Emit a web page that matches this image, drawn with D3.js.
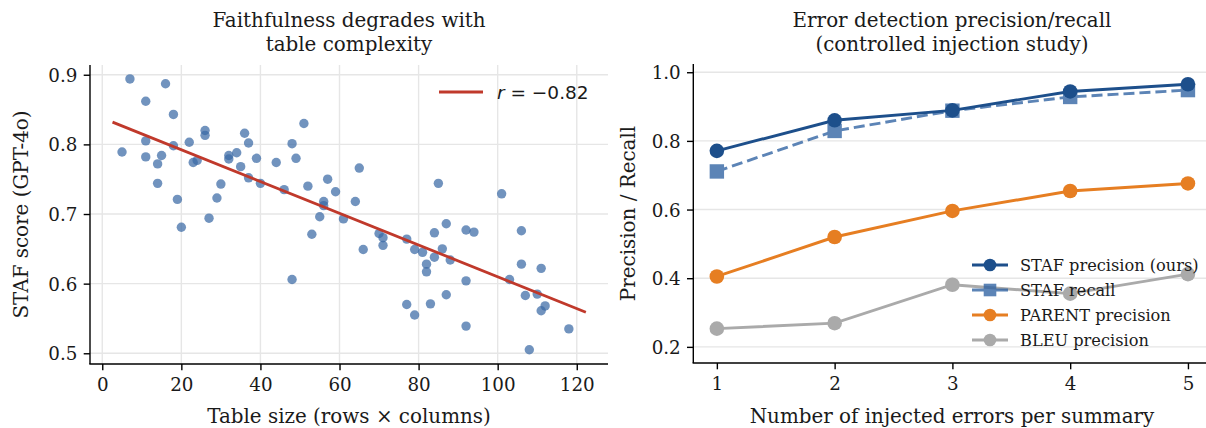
<!DOCTYPE html>
<html><head><meta charset="utf-8">
<script src="https://cdn.jsdelivr.net/npm/d3@7"></script>
<style>
html,body{margin:0;padding:0;background:#fff;}
svg text{font-family:"DejaVu Serif",serif;fill:#1a1a1a;}
</style></head>
<body><svg id="chart" width="1206" height="428"></svg>
<script>
// ---------- Left panel data ----------
const tableSize = [7,16,11,18,26,26,36,51,11,5,18,22,37,48,11,15,14,23,24,32,32,34,35,39,44,49,37,40,46,52,57,59,56,56,14,30,19,29,27,55,61,20,53,48,65,64,85,101,70,71,71,66,77,79,81,84,87,86,84,82,82,88,92,94,92,77,79,83,87,92,106,106,103,111,107,110,112,111,118,108];
const stafScore = [0.894,0.887,0.862,0.843,0.820,0.813,0.816,0.830,0.805,0.789,0.798,0.803,0.802,0.801,0.782,0.784,0.772,0.774,0.777,0.784,0.779,0.788,0.768,0.780,0.774,0.780,0.752,0.744,0.735,0.740,0.750,0.732,0.718,0.712,0.744,0.743,0.721,0.723,0.694,0.696,0.693,0.681,0.671,0.606,0.766,0.718,0.744,0.729,0.672,0.666,0.655,0.649,0.664,0.649,0.645,0.673,0.686,0.650,0.638,0.628,0.617,0.634,0.677,0.674,0.604,0.570,0.555,0.571,0.584,0.539,0.676,0.628,0.606,0.622,0.583,0.585,0.568,0.561,0.535,0.505];
const fitX = [2.6, 122.3];
const fitY = [0.832, 0.559];
const leftXTicks = [0,20,40,60,80,100,120];
const leftYTicks = [0.5,0.6,0.7,0.8,0.9];
const corrLabel = "−0.82";

// ---------- Right panel data ----------
const nErrors = [1,2,3,4,5];
const stafPrecision = [0.771,0.860,0.889,0.944,0.965];
const stafRecall = [0.711,0.829,0.888,0.928,0.948];
const parentPrecision = [0.405,0.520,0.596,0.654,0.676];
const bleuPrecision = [0.253,0.269,0.381,0.355,0.412];
const seriesNames = ["STAF precision (ours)","STAF recall","PARENT precision","BLEU precision"];
const rightYTicks = [0.2,0.4,0.6,0.8,1.0];

const svg = d3.select("#chart");
const TICK = 6.3, PAD = 6.3, TF = 18.3, LF = 19.9;

function drawGrid(g, x, y, xt, yt, gridX) {
  const [x0,x1] = x.range(), [y0,y1] = y.range();
  if (gridX) g.append("g").selectAll("line").data(xt).join("line")
    .attr("x1",d=>x(d)).attr("x2",d=>x(d)).attr("y1",y0).attr("y2",y1)
    .attr("stroke","#e6e6e6").attr("stroke-width",1.4);
  g.append("g").selectAll("line").data(yt).join("line")
    .attr("x1",x0).attr("x2",x1).attr("y1",d=>y(d)).attr("y2",d=>y(d))
    .attr("stroke","#e6e6e6").attr("stroke-width",1.4);
}
function drawSpines(g, x, y, xt, yt, xfmt, yfmt) {
  const [x0,x1] = x.range(), [y0,y1] = y.range();
  const ax = g.append("g").attr("transform",`translate(0,${y0})`)
    .call(d3.axisBottom(x).tickValues(xt).tickFormat(xfmt).tickSizeInner(TICK).tickSizeOuter(0).tickPadding(PAD));
  const ay = g.append("g").attr("transform",`translate(${x0},0)`)
    .call(d3.axisLeft(y).tickValues(yt).tickFormat(yfmt).tickSizeInner(TICK).tickSizeOuter(0).tickPadding(PAD));
  [ax,ay].forEach(a=>{
    a.select(".domain").remove();
    a.selectAll(".tick line").attr("stroke","#000").attr("stroke-width",1.4);
    a.selectAll(".tick text").attr("font-size",TF).attr("font-family","DejaVu Serif").attr("fill","#1a1a1a");
  });
  ax.selectAll(".tick text").attr("dy","0.76em");
  ay.selectAll(".tick text").attr("dy","0.36em");
  g.append("line").attr("x1",x0).attr("x2",x0).attr("y1",y0).attr("y2",y1).attr("stroke","#000").attr("stroke-width",1.4);
  g.append("line").attr("x1",x0-0.7).attr("x2",x1).attr("y1",y0).attr("y2",y0).attr("stroke","#000").attr("stroke-width",1.4);
}

// ================= LEFT PANEL =================
const xL = d3.scaleLinear().domain([-3.1,127.9]).range([90,608]);
const yL = d3.scaleLinear().domain([0.4846,0.914]).range([364,65]);
const gL = svg.append("g");
drawGrid(gL,xL,yL,leftXTicks,leftYTicks,true);
gL.append("g").selectAll("circle").data(tableSize.map((d,i)=>[d,stafScore[i]])).join("circle")
  .attr("cx",d=>xL(d[0])).attr("cy",d=>yL(d[1])).attr("r",4.7)
  .attr("fill","#3a6aa5").attr("fill-opacity",0.72);
gL.append("path").datum(fitX.map((d,i)=>[d,fitY[i]]))
  .attr("d",d3.line().x(d=>xL(d[0])).y(d=>yL(d[1])))
  .attr("stroke","#c0392b").attr("stroke-width",2.8).attr("fill","none");
drawSpines(gL,xL,yL,leftXTicks,leftYTicks,d3.format("d"),d3.format(".1f"));
// legend
gL.append("line").attr("x1",439).attr("x2",483).attr("y1",92).attr("y2",92).attr("stroke","#c0392b").attr("stroke-width",2.8);
const lt = gL.append("text").attr("x",497).attr("y",98.5).attr("font-size",18.5).style("font-family","DejaVu Sans");
lt.append("tspan").attr("font-style","italic").style("font-family","DejaVu Sans").text("r");
lt.append("tspan").style("font-family","DejaVu Sans").text(" = " + corrLabel);
// titles / labels
gL.append("text").attr("x",349).attr("y",27).attr("text-anchor","middle").attr("font-size",LF).text("Faithfulness degrades with");
gL.append("text").attr("x",349).attr("y",51).attr("text-anchor","middle").attr("font-size",LF).text("table complexity");
gL.append("text").attr("x",349).attr("y",422.5).attr("text-anchor","middle").attr("font-size",LF).text("Table size (rows × columns)");
gL.append("text").attr("transform","translate(28,214.5) rotate(-90)").attr("text-anchor","middle").attr("font-size",LF).text("STAF score (GPT-4o)");

// ================= RIGHT PANEL =================
const xR = d3.scaleLinear().domain([0.8,5.2]).range([693.3,1211.5]);
const yR = d3.scaleLinear().domain([0.153,1.024]).range([363,64]);
const gR = svg.append("g");
drawGrid(gR,xR,yR,nErrors,rightYTicks,false);
const line = d3.line().x(d=>xR(d[0])).y(d=>yR(d[1]));
const series = [
  {name:seriesNames[0], vals:stafPrecision, color:"#1d4f8b", dash:null, marker:"circle", op:1},
  {name:seriesNames[1], vals:stafRecall, color:"#2f62a2", dash:"11,5", marker:"square", op:0.78},
  {name:seriesNames[2], vals:parentPrecision, color:"#e67e22", dash:null, marker:"circle", op:1},
  {name:seriesNames[3], vals:bleuPrecision, color:"#aaaaaa", dash:null, marker:"circle", op:1}
];
const drawOrder = [1,0,2,3];
drawOrder.forEach(k=>{
  const s = series[k];
  const pts = nErrors.map((d,i)=>[d,s.vals[i]]);
  const g = gR.append("g").attr("opacity",s.op);
  g.append("path").datum(pts).attr("d",line).attr("fill","none").attr("stroke",s.color)
    .attr("stroke-width",2.9).attr("stroke-dasharray",s.dash);
  if (s.marker==="circle") g.selectAll("circle").data(pts).join("circle")
    .attr("cx",d=>xR(d[0])).attr("cy",d=>yR(d[1])).attr("r",7.3).attr("fill",s.color);
  else g.selectAll("rect").data(pts).join("rect")
    .attr("x",d=>xR(d[0])-7.2).attr("y",d=>yR(d[1])-7.2).attr("width",14.4).attr("height",14.4).attr("fill",s.color);
});
drawSpines(gR,xR,yR,nErrors,rightYTicks,d3.format("d"),d3.format(".1f"));
// legend
series.forEach((s,i)=>{
  const cy = 265 + i*25;
  const g = gR.append("g").attr("opacity",s.op);
  g.append("line").attr("x1",972).attr("x2",1008).attr("y1",cy).attr("y2",cy).attr("stroke",s.color).attr("stroke-width",2.9);
  if (s.marker==="circle") g.append("circle").attr("cx",990).attr("cy",cy).attr("r",6.3).attr("fill",s.color);
  else g.append("rect").attr("x",990-6.3).attr("y",cy-6.3).attr("width",12.6).attr("height",12.6).attr("fill",s.color);
  gR.append("text").attr("x",1020).attr("y",cy+5.5).attr("font-size",16.2).text(s.name);
});
gR.append("text").attr("x",952).attr("y",27).attr("text-anchor","middle").attr("font-size",LF).text("Error detection precision/recall");
gR.append("text").attr("x",952).attr("y",51).attr("text-anchor","middle").attr("font-size",LF).text("(controlled injection study)");
gR.append("text").attr("x",952).attr("y",422.5).attr("text-anchor","middle").attr("font-size",LF).text("Number of injected errors per summary");
gR.append("text").attr("transform","translate(635,213.5) rotate(-90)").attr("text-anchor","middle").attr("font-size",LF).text("Precision / Recall");
</script></body></html>
